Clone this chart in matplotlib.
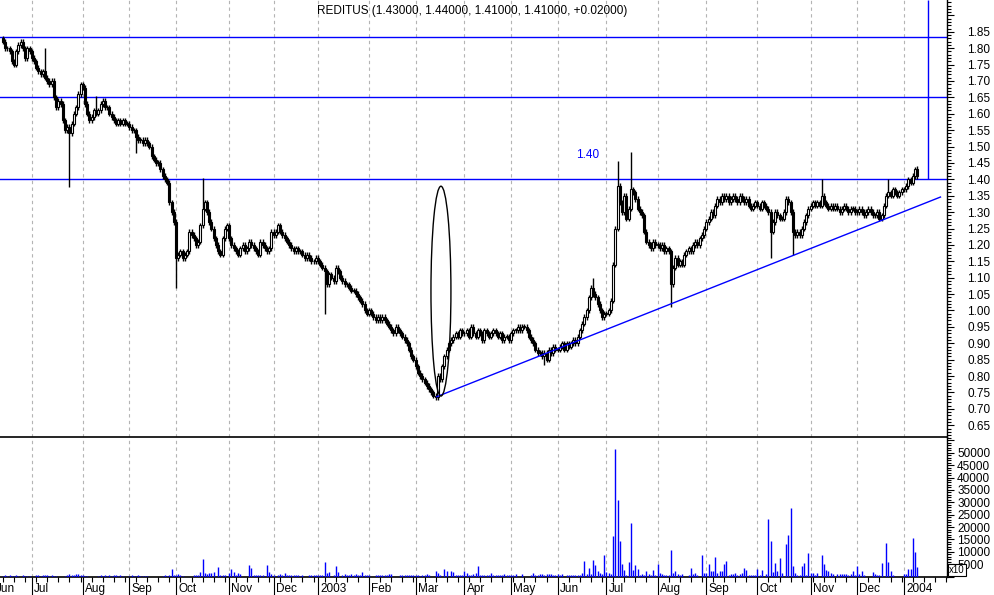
import numpy as np
import matplotlib.pyplot as plt
from matplotlib.patches import Ellipse, Rectangle
from matplotlib.ticker import MultipleLocator, FuncFormatter

plt.rcParams['font.family'] = ['Liberation Sans', 'DejaVu Sans']

# month labels (first June is only partly on the chart)
month_labels = ["Jun", "Jul", "Aug", "Sep", "Oct", "Nov", "Dec", "2003", "Feb", "Mar",
                "Apr", "May", "Jun", "Jul", "Aug", "Sep", "Oct", "Nov", "Dec", "2004"]

# daily closes, one list per month
closes = [
    [1.82, 1.80, 1.80, 1.79, 1.76, 1.75, 1.79, 1.81, 1.82, 1.80, 1.77, 1.80, 1.79],
    [1.77, 1.76, 1.74, 1.73, 1.72, 1.73, 1.71, 1.70, 1.69, 1.70, 1.65, 1.62, 1.64, 1.63, 1.58, 1.55, 1.56, 1.54, 1.57, 1.60, 1.62, 1.66, 1.69],
    [1.68, 1.63, 1.60, 1.58, 1.59, 1.61, 1.60, 1.61, 1.63, 1.64, 1.62, 1.62, 1.60, 1.59, 1.58, 1.57, 1.58, 1.57, 1.58, 1.57, 1.57],
    [1.56, 1.55, 1.55, 1.53, 1.52, 1.52, 1.51, 1.52, 1.51, 1.50, 1.47, 1.46, 1.45, 1.45, 1.43, 1.41, 1.40, 1.39, 1.33, 1.30, 1.27],
    [1.16, 1.17, 1.18, 1.16, 1.17, 1.18, 1.24, 1.23, 1.22, 1.20, 1.21, 1.26, 1.31, 1.33, 1.30, 1.27, 1.25, 1.22, 1.20, 1.18, 1.17, 1.22, 1.25, 1.26],
    [1.22, 1.20, 1.19, 1.18, 1.17, 1.19, 1.20, 1.18, 1.19, 1.21, 1.20, 1.19, 1.18, 1.17, 1.21, 1.20, 1.19, 1.18, 1.19, 1.24],
    [1.23, 1.24, 1.26, 1.24, 1.23, 1.22, 1.21, 1.20, 1.19, 1.18, 1.19, 1.18, 1.18, 1.17, 1.16, 1.17, 1.16, 1.15, 1.15, 1.16],
    [1.15, 1.14, 1.13, 1.12, 1.08, 1.11, 1.10, 1.09, 1.13, 1.12, 1.10, 1.09, 1.08, 1.08, 1.07, 1.06, 1.06, 1.05, 1.04, 1.03, 1.02, 1.00, 0.99],
    [1.00, 0.99, 0.98, 0.97, 0.98, 0.97, 0.98, 0.97, 0.96, 0.95, 0.94, 0.93, 0.95, 0.94, 0.93, 0.92, 0.91, 0.90, 0.88, 0.86, 0.85],
    [0.83, 0.81, 0.80, 0.79, 0.78, 0.77, 0.76, 0.75, 0.74, 0.735, 0.80, 0.79, 0.83, 0.86, 0.88, 0.90, 0.91, 0.92, 0.93, 0.92, 0.94, 0.93],
    [0.93, 0.94, 0.92, 0.95, 0.93, 0.92, 0.94, 0.93, 0.91, 0.94, 0.93, 0.92, 0.93, 0.94, 0.93, 0.92, 0.93, 0.91, 0.92, 0.92, 0.91],
    [0.93, 0.94, 0.94, 0.95, 0.94, 0.95, 0.95, 0.94, 0.92, 0.91, 0.90, 0.88, 0.87, 0.87, 0.86, 0.87, 0.85, 0.88, 0.87, 0.89, 0.88],
    [0.88, 0.89, 0.90, 0.88, 0.90, 0.89, 0.90, 0.91, 0.90, 0.92, 0.94, 0.96, 0.98, 1.00, 1.04, 1.07, 1.05, 1.04, 1.02, 1.00, 0.98, 0.99],
    [0.99, 1.00, 1.03, 1.14, 1.25, 1.38, 1.33, 1.30, 1.35, 1.28, 1.31, 1.37, 1.36, 1.34, 1.31, 1.30, 1.29, 1.24, 1.21, 1.20, 1.19, 1.21, 1.20],
    [1.20, 1.19, 1.20, 1.18, 1.19, 1.18, 1.08, 1.13, 1.16, 1.14, 1.15, 1.14, 1.17, 1.18, 1.19, 1.18, 1.20, 1.21, 1.20, 1.22, 1.23, 1.25],
    [1.27, 1.28, 1.30, 1.29, 1.32, 1.34, 1.33, 1.35, 1.34, 1.35, 1.33, 1.34, 1.35, 1.34, 1.33, 1.35, 1.34, 1.33, 1.34, 1.32, 1.31, 1.32, 1.33],
    [1.32, 1.31, 1.33, 1.32, 1.31, 1.30, 1.24, 1.27, 1.30, 1.29, 1.28, 1.28, 1.30, 1.34, 1.33, 1.30, 1.24, 1.23, 1.24, 1.23, 1.25, 1.27, 1.29, 1.31],
    [1.32, 1.33, 1.32, 1.33, 1.32, 1.35, 1.33, 1.32, 1.31, 1.32, 1.31, 1.32, 1.31, 1.30, 1.31, 1.32, 1.31, 1.30, 1.31, 1.31, 1.30],
    [1.30, 1.31, 1.30, 1.29, 1.30, 1.31, 1.30, 1.29, 1.29, 1.30, 1.28, 1.29, 1.32, 1.35, 1.36, 1.35, 1.37, 1.36, 1.35, 1.36, 1.37],
    [1.37, 1.38, 1.40, 1.39, 1.41, 1.43, 1.41],
]

# daily volume (axis units, x10), one list per month
volumes = [
    [400, 500, 400, 600, 400, 300, 500, 400, 0, 500, 400, 300, 400],
    [0, 0, 500, 800, 400, 600, 500, 700, 400, 500, 300, 400, 0, 0, 0, 400, 600, 1100, 700, 500, 900, 1000, 600],
    [500, 400, 400, 0, 0, 0, 0, 400, 500, 300, 600, 400, 500, 300, 700, 500, 400, 600, 400, 0, 0],
    [400, 500, 400, 300, 700, 400, 300, 400, 400, 0, 0, 0, 0, 0, 0, 400, 500, 400, 800, 3100, 600],
    [800, 1000, 700, 400, 0, 0, 0, 0, 600, 600, 500, 1900, 7100, 1400, 1200, 1500, 1300, 1700, 0, 3900, 700, 600, 800, 0],
    [1500, 3100, 1800, 500, 1300, 1000, 0, 0, 0, 4700, 3600, 600, 700, 500, 800, 600, 0, 4700, 1800, 900],
    [600, 0, 500, 1000, 700, 1300, 800, 500, 600, 700, 500, 600, 400, 500, 0, 0, 700, 500, 600, 800],
    [700, 600, 500, 5900, 1300, 1900, 0, 800, 4300, 1700, 0, 500, 1000, 800, 600, 900, 700, 1000, 600, 500, 1700, 600, 700],
    [500, 0, 0, 600, 700, 500, 800, 500, 600, 900, 1000, 0, 0, 0, 500, 600, 500, 700, 500, 600, 500],
    [500, 600, 400, 700, 600, 900, 800, 0, 0, 2300, 1300, 700, 0, 3100, 2300, 0, 2300, 1900, 700, 600, 500, 500],
    [2300, 1300, 700, 500, 1000, 1500, 4300, 600, 500, 700, 500, 600, 1300, 700, 500, 600, 800, 500, 900, 600, 700],
    [600, 800, 1200, 0, 0, 1100, 0, 0, 0, 700, 1300, 600, 800, 900, 1000, 700, 900, 1000, 1100, 800, 700],
    [1200, 700, 1100, 0, 500, 600, 600, 500, 700, 600, 700, 1500, 6300, 1200, 3600, 1200, 6700, 4700, 2300, 1300, 1200, 8700],
    [1800, 1300, 900, 16400, 51500, 31000, 14400, 5100, 2700, 600, 5900, 21600, 2700, 4700, 3200, 600, 900, 700, 2300, 1100, 600, 2700, 600],
    [5100, 1500, 900, 600, 600, 600, 10700, 1300, 2300, 1100, 600, 1200, 0, 0, 600, 3500, 900, 1300, 600, 0, 8700, 1300],
    [1300, 5100, 2300, 2100, 7900, 1300, 2300, 2300, 5100, 6300, 600, 1000, 1200, 1300, 800, 1000, 1500, 3500, 2700, 600, 800, 600, 700],
    [3200, 600, 2700, 0, 1200, 23300, 14400, 1800, 5600, 2300, 7500, 1300, 0, 13200, 16800, 27700, 4300, 1300, 600, 700, 4300, 5500, 600, 9500],
    [1300, 1300, 600, 1300, 0, 8700, 5100, 2700, 2300, 1500, 1100, 0, 900, 1100, 1200, 900, 1000, 700, 1200, 2300, 800],
    [4300, 1200, 2300, 600, 0, 0, 0, 1900, 1100, 700, 600, 5500, 0, 13600, 5900, 2300, 800, 0, 0, 0, 0],
    [1200, 1200, 3200, 3200, 15600, 10000, 3900],
]

# long wicks (bar index -> price)
spike_highs = {19: 1.80, 42: 1.655, 90: 1.403, 266: 1.10, 277: 1.455, 283: 1.483,
               369: 1.40, 399: 1.40, 412: 1.44}
spike_lows = {30: 1.376, 60: 1.48, 78: 1.07, 145: 0.99, 244: 0.835, 301: 1.01,
              346: 1.16, 356: 1.17}

levels = [1.834, 1.65, 1.40]
trend_x = [195.5, 422.5]
trend_y = [0.737, 1.346]

title = "REDITUS (1.43000, 1.44000, 1.41000, 1.41000, +0.02000)"

blue = "#0000ff"

c = np.concatenate([np.array(m, dtype=float) for m in closes])
v = np.concatenate([np.array(m, dtype=float) for m in volumes])
idx = np.arange(len(c))
o = np.r_[1.83, c[:-1]]
top = np.maximum(o, c)
bot = np.minimum(o, c)
hi = top + 0.008
lo = bot - 0.008
for k, val in spike_highs.items():
    hi[k] = val
for k, val in spike_lows.items():
    lo[k] = val

starts = np.cumsum([0] + [len(m) for m in closes[:-1]])
label_pos = starts.astype(float)
label_pos[0] = -4

fig = plt.figure(figsize=(9.94, 5.95), dpi=100)
axv = fig.add_axes([0, 0.0308, 0.9524, 0.2347])
ax = fig.add_axes([0, 0.2655, 0.9524, 0.7345])
ax.patch.set_alpha(0)

xmin, xmax = -1.3, 425.3
for a in (ax, axv):
    a.set_xlim(xmin, xmax)
    for s in starts[1:]:
        a.axvline(s, color="#b4b4b4", lw=0.8, ls=(0, (3, 3)), zorder=0)
    a.spines["left"].set_visible(False)
    a.spines["top"].set_visible(False)
    a.yaxis.tick_right()
ax.spines["bottom"].set_linewidth(1.2)
axv.spines["bottom"].set_linewidth(1.2)
axv.spines["right"].set_linewidth(1.0)
ax.spines["right"].set_linewidth(1.0)

# price panel
ax.set_ylim(0.614, 1.947)
ax.vlines(idx, lo, hi, color="k", lw=1.0, zorder=3)
for i in idx:
    h = max(top[i] - bot[i], 0.002)
    fc = "k" if c[i] < o[i] else "white"
    ax.add_patch(Rectangle((i - 0.45, bot[i]), 0.9, h, facecolor=fc,
                           edgecolor="k", lw=0.8, zorder=4))
for lv in levels:
    ax.axhline(lv, color=blue, lw=1.0, zorder=2)
ax.vlines(416.9, 1.40, 1.947, color=blue, lw=1.0, zorder=2)
ax.plot(trend_x, trend_y, color=blue, lw=1.0, zorder=5)
ax.add_patch(Ellipse((197.4, 1.059), 9.0, 0.64, fill=False, ec="k", lw=1.0, zorder=6))
ax.text(263.7, 1.474, "1.40", color=blue, ha="center", va="center", fontsize=8.5)

ax.set_xticks([])
ax.yaxis.set_major_locator(MultipleLocator(0.05))
ax.yaxis.set_minor_locator(MultipleLocator(0.01))
ax.yaxis.set_major_formatter(FuncFormatter(lambda y, p: f"{y:.2f}" if 0.64 < y < 1.86 else ""))
ax.tick_params(axis="y", which="major", length=5, width=0.8, pad=10, labelsize=8.5)
ax.tick_params(axis="y", which="minor", length=3, width=0.8)

# volume panel
axv.set_ylim(0, 56330)
axv.vlines(idx, 0, v, color=blue, lw=1.0, zorder=3)
axv.yaxis.set_major_locator(MultipleLocator(5000))
axv.yaxis.set_minor_locator(MultipleLocator(1000))
axv.yaxis.set_major_formatter(FuncFormatter(lambda y, p: f"{y:.0f}" if 4000 < y < 51000 else ""))
axv.tick_params(axis="y", which="major", length=5, width=0.8, pad=2.5, labelsize=8.5)
axv.tick_params(axis="y", which="minor", length=3, width=0.8)

axv.set_xticks(starts[1:])
axv.set_xticklabels([])
axv.xaxis.set_minor_locator(MultipleLocator(5))
axv.tick_params(axis="x", which="major", length=13, width=0.8)
axv.tick_params(axis="x", which="minor", length=3.5, width=0.8)
for pos, lbl in zip(label_pos, month_labels):
    axv.annotate(lbl, (pos, 0), xycoords=("data", "axes fraction"), xytext=(1.6, -8.9),
                 textcoords="offset points", ha="left", va="center", fontsize=8.5,
                 annotation_clip=False)

fig.text(949 / 994, 1 - 570 / 595, "x10", ha="left", va="center", fontsize=7,
         bbox=dict(boxstyle="square,pad=0.15", fc="white", ec="k", lw=0.8))
fig.text(472 / 994, 1 - 11 / 595, title, ha="center", va="center", fontsize=8.5)

fig.savefig("out.png", dpi=100)
